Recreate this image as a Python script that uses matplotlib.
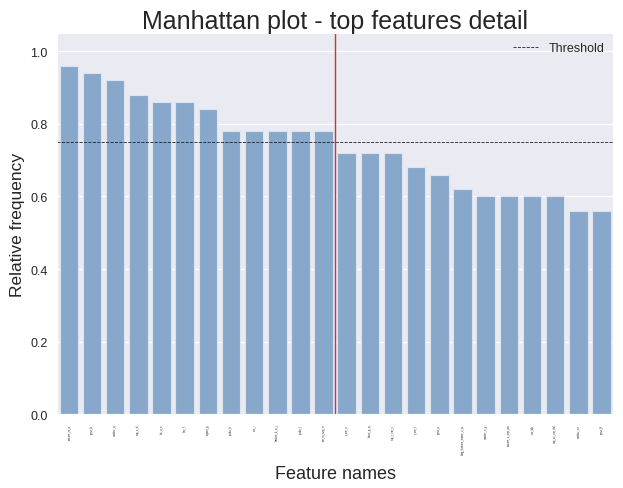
import matplotlib
matplotlib.use("Agg")
import matplotlib.pyplot as plt
import seaborn as sns

features = [
    "variant_rs_a", "gene_b", "marker_q", "snp_c_d", "loc_a_e", "abc_f", "region_g",
    "probe_h", "cnv_i", "feature_k_a_j", "probe_l", "var_m_snp_n",
    "c_var_o", "locus_p_q", "snp_r_var_s", "c_var_t", "gene_u", "long_feature_name_v_w",
    "marker_x_y", "variant_z_snp_aa", "cnv_bb", "snp_cc_var_dd", "marker_ee", "gene_ff",
]
freqs = [0.96, 0.94, 0.92, 0.88, 0.86, 0.86, 0.84, 0.78, 0.78, 0.78, 0.78, 0.78,
         0.72, 0.72, 0.72, 0.68, 0.66, 0.62, 0.60, 0.60, 0.60, 0.60, 0.56, 0.56]
threshold = 0.75
cutoff_pos = 11.5

sns.set_style("darkgrid")
plt.rcParams['font.family'] = ['Liberation Sans', 'DejaVu Sans']

fig, ax = plt.subplots(figsize=(6.23, 4.89), dpi=100)
ax.bar(range(len(features)), freqs, width=0.8, color="#88a8cb",
       edgecolor="#dde4ee", linewidth=0.8)
ax.axhline(threshold, color="#222222", linestyle="--", linewidth=0.6, label="Threshold")
ax.axvline(cutoff_pos, color="#cc3333", linewidth=1.0)

ax.set_xlim(-0.5, len(features) - 0.5)
ax.set_ylim(0, 1.05)
ax.set_xticks(range(len(features)))
ax.set_xticklabels(features, rotation=90, fontsize=2)
ax.tick_params(axis="y", labelsize=9)
ax.grid(axis="x", visible=False)

ax.set_title("Manhattan plot - top features detail", fontsize=18, pad=4)
ax.set_xlabel("Feature names", fontsize=13, labelpad=8)
ax.set_ylabel("Relative frequency", fontsize=12.5)
ax.legend(loc="upper right", fontsize=9, frameon=False, borderaxespad=0.3)

fig.subplots_adjust(left=0.092, right=0.984, top=0.93, bottom=0.151)
fig.savefig("out.png", dpi=100)
